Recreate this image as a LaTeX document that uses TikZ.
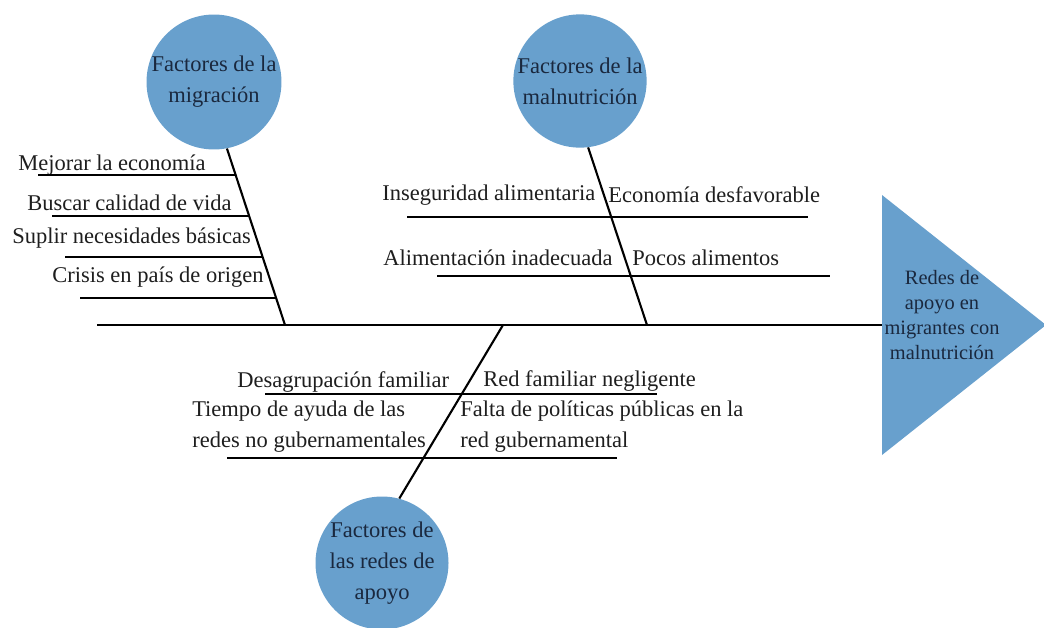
\documentclass[tikz,border=0pt]{standalone}
\usepackage{fontspec}
\setmainfont{Liberation Serif}
\definecolor{myBlue}{RGB}{104, 160, 205}
\definecolor{myNavy}{RGB}{26, 40, 62}
\definecolor{myInk}{RGB}{30, 30, 30}

\begin{document}
\begin{tikzpicture}[x=0.025cm, y=-0.025cm,
		factor/.style={circle, fill=myBlue, text=myNavy, inner sep=0pt, align=center, minimum size=3.3cm, font=\fontsize{16}{22}\selectfont},
		cause/.style={anchor=west, inner sep=0pt, text=myInk, align=left, font=\fontsize{16}{22}\selectfont},
		bone/.style={line width=1.5pt},
		rib/.style={line width=1.5pt}]
				\useasboundingbox (0,0) rectangle (1044,627);
				\fill[myBlue] (882,195) -- (1046,325) -- (882,455) -- cycle;
				\draw (942,315) node[text=myNavy, align=center, font=\fontsize{14.5}{18}\selectfont] (head) {Redes de\\apoyo en\\migrantes con\\malnutrición};
				\draw (214,82) node[factor] (mig) {Factores de la\\migración};
				\draw (580,81) node[factor] (mal) {Factores de la\\malnutrición};
				\draw (382,563) node[factor, minimum size=3.2cm] (red) {Factores de\\las redes de\\apoyo};
				\coordinate (tail) at (97,325);
				\coordinate (neck) at (882,325);
				\coordinate (j1) at (285,325);
				\coordinate (j2) at (647,325);
				\coordinate (j3) at (503,325);
				\draw[line width=1.8pt] (tail) -- (neck);

				\draw (18,165) node[cause] (m1) {Mejorar la economía};
				\draw (27,203) node[cause] (m2) {Buscar calidad de vida};
				\draw (12,238) node[cause] (m3) {Suplir necesidades básicas};
				\draw (52,277) node[cause] (m4) {Crisis en país de origen};
				\draw[rib] (38,175) -- (235,175);
				\draw[rib] (52,216) -- (249,216);
				\draw[rib] (65,257) -- (263,257);
				\draw[rib] (80,298) -- (277,298);

				\draw (382,195) node[cause] (n1) {Inseguridad alimentaria};
				\draw (608,195) node[cause] (n2) {Economía desfavorable};
				\draw (383,258) node[cause] (n3) {Alimentación inadecuada};
				\draw (632,258) node[cause] (n4) {Pocos alimentos};
				\draw[rib] (407,217) -- (808,217);
				\draw[rib] (437,276) -- (830,276);

				\draw (237,382) node[cause] (r1) {Desagrupación familiar};
				\draw (483,381) node[cause] (r2) {Red familiar negligente};
				\draw (192,427) node[cause] (r3) {Tiempo de ayuda de las\\redes no gubernamentales};
				\draw (460,427) node[cause] (r4) {Falta de políticas públicas en la\\red gubernamental};
				\draw[rib] (265,394) -- (657,394);
				\draw[rib] (227,458) -- (617,458);

				\path[bone]
				(mig.-79) edge (j1)
				(mal.-83) edge (j2)
				(red.75) edge (j3)
				;
			\end{tikzpicture}
\end{document}
